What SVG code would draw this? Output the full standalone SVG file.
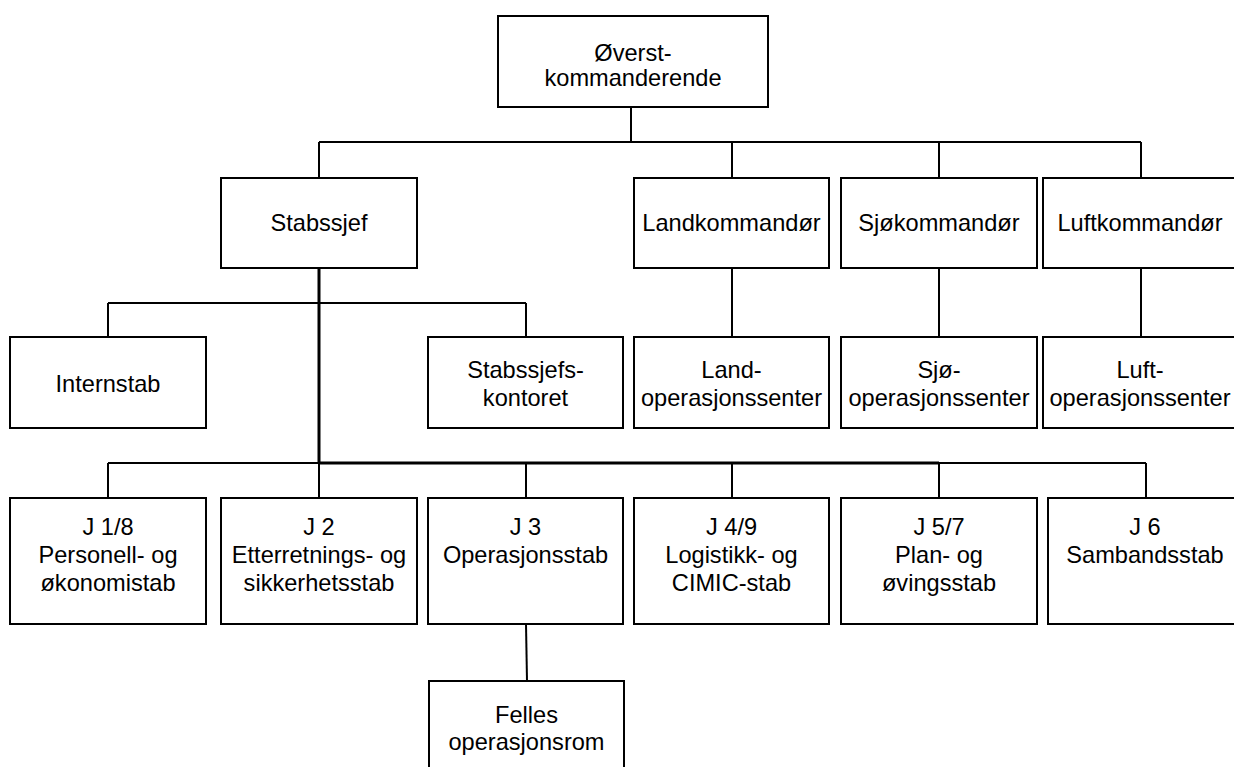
<svg xmlns="http://www.w3.org/2000/svg" width="1234" height="767" viewBox="0 0 1234 767">
<style>
.box{fill:#fff;stroke:#000;stroke-width:2}
.t{font-family:"Liberation Sans",Arial,sans-serif;font-size:23.6px;fill:#000;text-anchor:middle}
.c{fill:none;stroke:#000;stroke-width:2}
.ck{fill:none;stroke:#000;stroke-width:3}
</style>
<rect width="1234" height="767" fill="#fff"/>
<g id="connectors">
<path class="c" d="M631 107V142M319 142H1141M319 142V178M732 142V178M939 142V178M1141 142V178"/>
<path class="c" d="M108 303H526M108 303V337M526 303V337"/>
<path class="c" d="M732 268V337M939 268V337M1141 268V337"/>
<path class="c" d="M108 463H319M939 463H1146"/>
<path class="c" d="M108 463V498M319 463V498M526 463V498M732 463V498M939 463V498M1146 463V498"/>
<path class="c" d="M526 624L527 681"/>
<path class="ck" d="M319 268V463M319 463H939"/>
</g>
<g id="n-overst"><rect class="box" x="498" y="16" width="270" height="91"/><text class="t" x="633" y="61">Øverst-</text><text class="t" x="633" y="85.5">kommanderende</text></g>
<g id="n-stabssjef"><rect class="box" x="221" y="178" width="196" height="90"/><text class="t" x="319" y="231">Stabssjef</text></g>
<g id="n-land"><rect class="box" x="634" y="178" width="195" height="90"/><text class="t" x="731.5" y="231">Landkommandør</text></g>
<g id="n-sjo"><rect class="box" x="841" y="178" width="196" height="90"/><text class="t" x="939" y="231">Sjøkommandør</text></g>
<g id="n-luft"><rect class="box" x="1043" y="178" width="196" height="90"/><text class="t" x="1140" y="231">Luftkommandør</text></g>
<g id="n-internstab"><rect class="box" x="10" y="337" width="196" height="91"/><text class="t" x="108" y="392">Internstab</text></g>
<g id="n-stabssjefskontoret"><rect class="box" x="428" y="337" width="195" height="91"/><text class="t" x="525.5" y="378">Stabssjefs-</text><text class="t" x="525.5" y="406">kontoret</text></g>
<g id="n-landops"><rect class="box" x="634" y="337" width="195" height="91"/><text class="t" x="731.5" y="378">Land-</text><text class="t" x="731.5" y="406">operasjonssenter</text></g>
<g id="n-sjoops"><rect class="box" x="841" y="337" width="196" height="91"/><text class="t" x="939" y="378">Sjø-</text><text class="t" x="939" y="406">operasjonssenter</text></g>
<g id="n-luftops"><rect class="box" x="1043" y="337" width="196" height="91"/><text class="t" x="1140" y="378">Luft-</text><text class="t" x="1140" y="406">operasjonssenter</text></g>
<g id="n-j1"><rect class="box" x="10" y="498" width="196" height="126"/><text class="t" x="108" y="535">J 1/8</text><text class="t" x="108" y="563">Personell- og</text><text class="t" x="108" y="590.5">økonomistab</text></g>
<g id="n-j2"><rect class="box" x="221" y="498" width="196" height="126"/><text class="t" x="319" y="535">J 2</text><text class="t" x="319" y="563">Etterretnings- og</text><text class="t" x="319" y="590.5">sikkerhetsstab</text></g>
<g id="n-j3"><rect class="box" x="428" y="498" width="195" height="126"/><text class="t" x="525.5" y="535">J 3</text><text class="t" x="525.5" y="563">Operasjonsstab</text></g>
<g id="n-j4"><rect class="box" x="634" y="498" width="195" height="126"/><text class="t" x="731.5" y="535">J 4/9</text><text class="t" x="731.5" y="563">Logistikk- og</text><text class="t" x="731.5" y="590.5">CIMIC-stab</text></g>
<g id="n-j5"><rect class="box" x="841" y="498" width="196" height="126"/><text class="t" x="939" y="535">J 5/7</text><text class="t" x="939" y="563">Plan- og</text><text class="t" x="939" y="590.5">øvingsstab</text></g>
<g id="n-j6"><rect class="box" x="1048" y="498" width="196" height="126"/><text class="t" x="1145" y="535">J 6</text><text class="t" x="1145" y="563">Sambandsstab</text></g>
<g id="n-felles"><rect class="box" x="429" y="681" width="195" height="110"/><text class="t" x="526.5" y="723">Felles</text><text class="t" x="526.5" y="750">operasjonsrom</text></g>
</svg>
